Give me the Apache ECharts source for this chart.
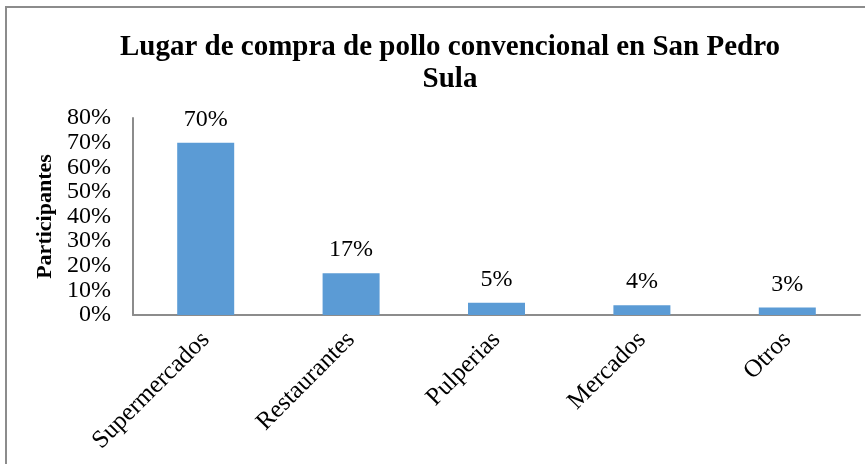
<!DOCTYPE html>
<html>
<head>
<meta charset="utf-8">
<script src="https://cdn.jsdelivr.net/npm/echarts@6/dist/echarts.min.js"></script>
<style>
  html, body { margin: 0; padding: 0; background: #fff; }
  #chart { width: 865px; height: 464px; }
</style>
</head>
<body>
<div id="chart"></div>
<script>
const categories = ['Supermercados', 'Restaurantes', 'Pulperias', 'Mercados', 'Otros'];
const values = [70, 17, 5, 4, 3];
const yTicks = [0, 10, 20, 30, 40, 50, 60, 70, 80];

const serif = '"Liberation Serif", "Times New Roman", serif';

const chart = echarts.init(document.getElementById('chart'));
chart.setOption({
    animation: false,
    title: {
        text: 'Lugar de compra de pollo convencional en San Pedro\nSula',
        left: 445,
        top: 27,
        textAlign: 'center',
        textStyle: {
            fontFamily: serif,
            fontWeight: 'bold',
            fontSize: 29,
            lineHeight: 32,
            color: '#000'
        }
    },
    graphic: [{
        type: 'rect',
        shape: { x: 6, y: 7, width: 900, height: 500 },
        style: { fill: 'none', stroke: '#8c8c8c', lineWidth: 2 },
        silent: true
    }],
    grid: { left: 133, right: 5, top: 118, bottom: 149 },
    xAxis: {
        type: 'category',
        data: categories,
        axisLine: { lineStyle: { color: '#8c8c8c', width: 2 } },
        axisTick: { show: false },
        axisLabel: {
            rotate: 45,
            margin: 21,
            interval: 0,
            fontFamily: serif,
            fontSize: 25,
            color: '#000'
        }
    },
    yAxis: {
        type: 'value',
        min: 0,
        max: 80,
        interval: 10,
        name: 'Participantes',
        nameLocation: 'middle',
        nameGap: 73,
        nameTextStyle: {
            fontFamily: serif,
            fontWeight: 'bold',
            fontSize: 22,
            color: '#000'
        },
        splitLine: { show: false },
        axisTick: { show: false },
        axisLine: { show: true, lineStyle: { color: '#8c8c8c', width: 2 } },
        axisLabel: {
            margin: 22,
            fontFamily: serif,
            fontSize: 24,
            color: '#000',
            formatter: v => (yTicks.includes(v) ? v + '%' : '')
        }
    },
    series: [{
        type: 'bar',
        data: values,
        barWidth: 57,
        itemStyle: { color: '#5B9BD5' },
        label: {
            show: true,
            position: 'top',
            distance: 11,
            fontFamily: serif,
            fontSize: 24,
            color: '#000',
            formatter: p => p.value + '%'
        }
    }]
});
</script>
</body>
</html>
